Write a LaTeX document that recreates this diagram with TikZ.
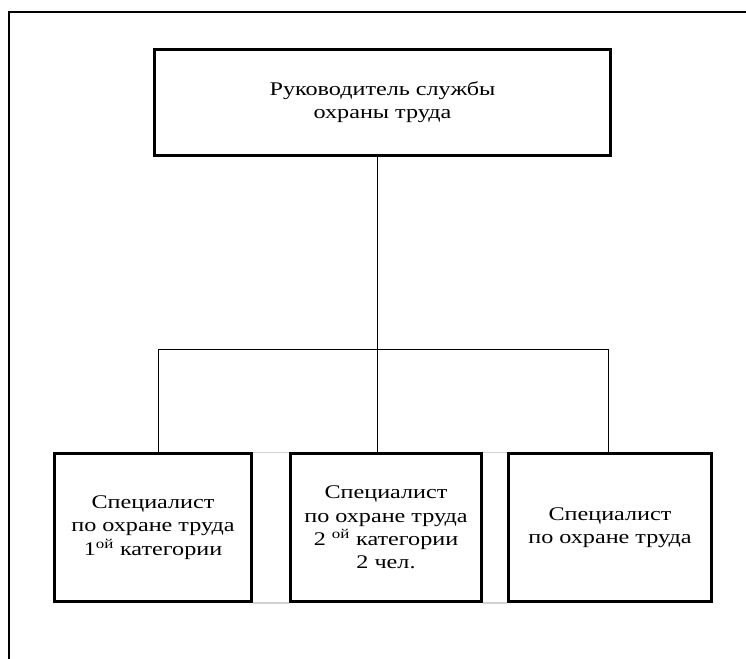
\documentclass[tikz,border=0pt]{standalone}
\usepackage{fontspec}
\setmainfont[FakeStretch=1.25]{Liberation Serif}

\tikzset{
    box/.style={draw, line width=2.2pt, align=center, inner sep=0pt,
        font=\fontsize{14.5}{17.5}\selectfont},
    link/.style={line width=0.7pt},
    seam/.style={gray!35, line width=0.8pt}
}

\begin{document}
\begin{tikzpicture}[x=0.75pt, y=-0.75pt]

\useasboundingbox (0,0) rectangle (746,659);

% frame
\draw[line width=1.3pt] (9,659) -- (9,12) -- (746,12);

% head of the service
\node[box, minimum width=342pt, minimum height=79.5pt] (head) at (382.5,102.5)
    {Руководитель службы\\охраны труда};

% specialists
\node[box, minimum width=147.75pt, minimum height=111pt] (spec1) at (153,527.5)
    {Специалист\\по охране труда\\1\textsuperscript{ой} категории};
\node[box, minimum width=143.25pt, minimum height=111pt] (spec2) at (386,527.5)
    {Специалист\\по охране труда\\2 \textsuperscript{ой} категории\\2 чел.};
\node[box, minimum width=152.25pt, minimum height=111pt] (spec3) at (610,527.5)
    {Специалист\\по охране труда};

% bus
\coordinate (busl) at (158,349);
\coordinate (busc) at (377,349);
\coordinate (busr) at (608,349);

\draw[link] (head.south -| busc) -- (busc |- spec2.north);
\draw[link] (busl) -- (busr);
\draw[link] (busl) -- (busl |- spec1.north);
\draw[link] (busr) -- (busr |- spec3.north);

% seams between the boxes
\draw[seam] (spec1.north east) -- (spec2.north west);
\draw[seam] (spec2.north east) -- (spec3.north west);
\draw[seam] (spec1.south east) -- (spec2.south west);
\draw[seam] (spec2.south east) -- (spec3.south west);

\end{tikzpicture}
\end{document}
